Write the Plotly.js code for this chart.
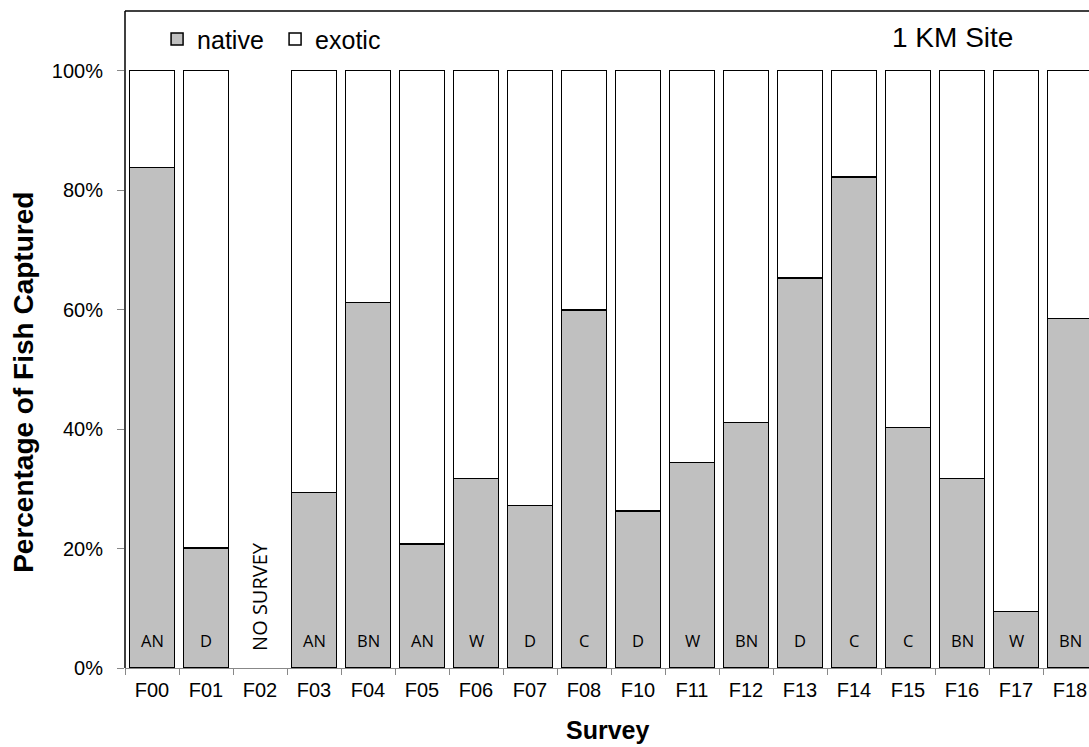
<!DOCTYPE html>
<html>
<head>
<meta charset="utf-8">
<script src="https://cdn.plot.ly/plotly-3.0.1.min.js"></script>
<style>
  html, body { margin: 0; padding: 0; overflow: hidden; background: #fff; }
  #chart { width: 1150px; height: 747px; }
</style>
</head>
<body>
<div id="chart"></div>
<script>
// Survey categories (F09 absent in the original)
const surveys = ["F00","F01","F02","F03","F04","F05","F06","F07","F08","F10","F11","F12","F13","F14","F15","F16","F17","F18"];
// Percentage of native fish captured
const nativePct = [83.8, 20.1, null, 29.4, 61.2, 20.8, 31.7, 27.2, 59.9, 26.3, 34.4, 41.1, 65.3, 82.2, 40.3, 31.7, 9.5, 58.5];
// Percentage of exotic fish captured
const exoticPct = [16.2, 79.9, null, 70.6, 38.8, 79.2, 68.3, 72.8, 40.1, 73.7, 65.6, 58.9, 34.7, 17.8, 59.7, 68.3, 90.5, 41.5];
// Codes printed at the base of each bar
const codes = ["AN","D","","AN","BN","AN","W","D","C","D","W","BN","D","C","C","BN","W","BN"];
// Y tick values
const yTicks = [0, 20, 40, 60, 80, 100];
const yTickText = ["0%","20%","40%","60%","80%","100%"];

const mainFont = "Liberation Sans, Arial, sans-serif";
const labelFont = "Open Sans, sans-serif";

const traces = [
  {
    type: "bar", name: "native", x: surveys, y: nativePct,
    marker: { color: "#C0C0C0", line: { color: "#000", width: 1.5 } },
    hoverinfo: "x+y"
  },
  {
    type: "bar", name: "exotic", x: surveys, y: exoticPct,
    marker: { color: "#FFFFFF", line: { color: "#000", width: 1.5 } },
    hoverinfo: "x+y"
  }
];

const annotations = codes.map((c, i) => ({
  x: surveys[i], y: 4.6, xref: "x", yref: "y", text: c, showarrow: false,
  font: { family: labelFont, size: 16.5, color: "#000" }, xanchor: "center", yanchor: "middle"
})).filter(a => a.text !== "");

annotations.push({
  x: "F02", y: 11.9, xref: "x", yref: "y", text: "NO SURVEY", showarrow: false,
  textangle: -90, xanchor: "center", yanchor: "middle",
  font: { family: labelFont, size: 20, color: "#000" }
});
annotations.push({
  x: 0.851, y: 0.959, xref: "paper", yref: "paper", text: "1 KM Site", showarrow: false,
  xanchor: "center", yanchor: "middle",
  font: { family: mainFont, size: 28, color: "#000" }
});
annotations.push({
  x: -0.1039, y: 0.434, xref: "paper", yref: "paper", text: "<b>Percentage of Fish Captured</b>",
  showarrow: false, textangle: -90, xanchor: "center", yanchor: "middle",
  font: { family: mainFont, size: 28, color: "#000" }
});
annotations.push({
  x: 0.496, y: -0.0944, xref: "paper", yref: "paper", text: "<b>Survey</b>",
  showarrow: false, xanchor: "center", yanchor: "middle",
  font: { family: mainFont, size: 25, color: "#000" }
});

const layout = {
  width: 1150, height: 747,
  margin: { l: 125, r: 53, t: 11, b: 79 },
  paper_bgcolor: "#fff", plot_bgcolor: "#fff",
  barmode: "stack", bargap: 0.167,
  showlegend: true,
  legend: {
    orientation: "h", x: 0.033, y: 0.957, xanchor: "left", yanchor: "middle",
    font: { family: mainFont, size: 25, color: "#000" },
    bgcolor: "rgba(0,0,0,0)", entrywidth: 73, traceorder: "normal"
  },
  xaxis: {
    type: "category", categoryorder: "array", categoryarray: surveys,
    tickson: "boundaries", ticks: "outside", ticklen: 6, tickcolor: "#888", tickwidth: 1,
    showline: true, linecolor: "#888", linewidth: 1,
    showgrid: false, zeroline: false, ticklabelstandoff: 4,
    tickfont: { family: mainFont, size: 20, color: "#000" }
  },
  yaxis: {
    range: [0, 110], tickvals: yTicks, ticktext: yTickText,
    ticks: "outside", ticklen: 7, tickcolor: "#888", tickwidth: 1,
    showline: false, showgrid: false, zeroline: false,
    ticklabelstandoff: 10,
    tickfont: { family: mainFont, size: 20, color: "#000" }
  },
  shapes: [
    { type: "line", xref: "paper", yref: "paper", x0: 0, x1: 0, y0: 0, y1: 1, line: { color: "#000", width: 1.5 } },
    { type: "line", xref: "paper", yref: "paper", x0: 0, x1: 1, y0: 1, y1: 1, line: { color: "#000", width: 1.5 } }
  ],
  annotations: annotations
};

Plotly.newPlot("chart", traces, layout, { displayModeBar: false, staticPlot: true });
</script>
</body>
</html>
